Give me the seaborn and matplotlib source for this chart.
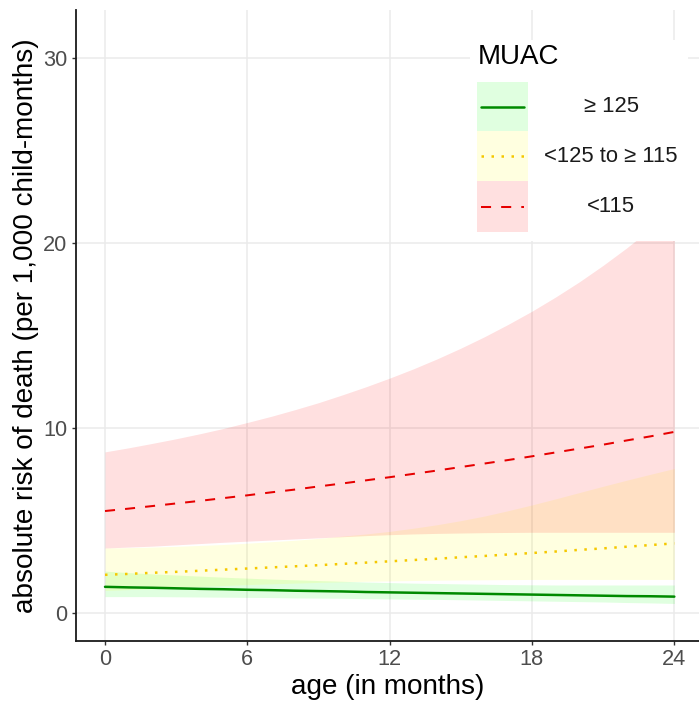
import numpy as np
import pandas as pd
import matplotlib
matplotlib.use("Agg")
import matplotlib.pyplot as plt
from matplotlib.patches import Rectangle
from matplotlib.lines import Line2D
import seaborn as sns

# age grid (months)
age = list(range(0, 25))

# MUAC >= 125
g_est = [1.40, 1.37, 1.35, 1.32, 1.29, 1.27, 1.24, 1.22, 1.19, 1.17, 1.15, 1.12, 1.10,
         1.08, 1.06, 1.04, 1.02, 1.00, 0.98, 0.96, 0.94, 0.92, 0.90, 0.89, 0.87]
g_lo = [0.87, 0.87, 0.87, 0.86, 0.85, 0.84, 0.83, 0.82, 0.80, 0.79, 0.78, 0.76, 0.75,
        0.73, 0.72, 0.70, 0.68, 0.66, 0.64, 0.62, 0.60, 0.58, 0.55, 0.53, 0.50]
g_hi = [2.25, 2.17, 2.10, 2.04, 1.98, 1.92, 1.87, 1.82, 1.78, 1.74, 1.70, 1.66, 1.63,
        1.60, 1.58, 1.56, 1.54, 1.52, 1.51, 1.50, 1.50, 1.50, 1.50, 1.50, 1.50]

# MUAC <125 to >= 115
y_est = [2.05, 2.10, 2.16, 2.21, 2.27, 2.33, 2.39, 2.45, 2.51, 2.57, 2.64, 2.71, 2.78,
         2.85, 2.92, 3.00, 3.07, 3.15, 3.23, 3.31, 3.40, 3.48, 3.57, 3.66, 3.75]
y_lo = [1.20, 1.25, 1.30, 1.36, 1.42, 1.47, 1.52, 1.56, 1.60, 1.64, 1.67, 1.70, 1.72,
        1.74, 1.76, 1.77, 1.78, 1.79, 1.80, 1.80, 1.80, 1.80, 1.80, 1.80, 1.80]
y_hi = [3.50, 3.52, 3.55, 3.59, 3.64, 3.69, 3.76, 3.84, 3.92, 4.02, 4.14, 4.26, 4.40,
        4.57, 4.76, 4.98, 5.23, 5.52, 5.83, 6.16, 6.50, 6.84, 7.17, 7.49, 7.80]

# MUAC < 115
r_est = [5.50, 5.63, 5.77, 5.91, 6.05, 6.20, 6.35, 6.51, 6.66, 6.83, 6.99, 7.16, 7.33,
         7.51, 7.69, 7.88, 8.07, 8.26, 8.46, 8.67, 8.88, 9.09, 9.32, 9.54, 9.78]
r_lo = [3.50, 3.55, 3.60, 3.67, 3.74, 3.81, 3.87, 3.93, 3.99, 4.05, 4.11, 4.17, 4.22,
        4.26, 4.29, 4.31, 4.33, 4.34, 4.35, 4.35, 4.35, 4.35, 4.35, 4.35, 4.35]
r_hi = [8.70, 8.92, 9.16, 9.41, 9.68, 9.97, 10.29, 10.62, 10.98, 11.36, 11.78, 12.22, 12.69,
        13.19, 13.73, 14.31, 14.93, 15.60, 16.31, 17.08, 17.90, 18.79, 19.74, 20.77, 21.87]

groups = ["\u2265 125", "<125 to \u2265 115", "<115"]
x_ticks = [0, 6, 12, 18, 24]
y_ticks = [0, 10, 20, 30]

sns.set_theme(style="white")
plt.rcParams["font.family"] = ["Liberation Sans", "DejaVu Sans"]

line_col = {groups[0]: "#008a00", groups[1]: "#f5c800", groups[2]: "#e60000"}
band_col = {groups[0]: "#00ff00", groups[1]: "#ffff00", groups[2]: "#ff0000"}
line_ls = {groups[0]: "-", groups[1]: (0, (1, 3)), groups[2]: (0, (5, 5))}
line_lw = {groups[0]: 1.8, groups[1]: 1.8, groups[2]: 1.45}

frames = []
for name, est, lo, hi in zip(groups, [g_est, y_est, r_est], [g_lo, y_lo, r_lo], [g_hi, y_hi, r_hi]):
    frames.append(pd.DataFrame({"age": age, "risk": est, "lo": lo, "hi": hi, "MUAC": name}))
df = pd.concat(frames, ignore_index=True)

W, H = 699, 705
fig = plt.figure(figsize=(W / 100, H / 100), dpi=100)
ax = fig.add_axes([75.5 / W, (H - 641) / H, (W - 75.5) / W, 631 / H])

for name in groups:
    sub = df[df["MUAC"] == name]
    ax.fill_between(sub["age"], sub["lo"], sub["hi"], color=band_col[name], alpha=0.12, lw=0, zorder=1)
for name in groups:
    sub = df[df["MUAC"] == name]
    sns.lineplot(data=sub, x="age", y="risk", ax=ax, color=line_col[name],
                 linestyle=line_ls[name], linewidth=line_lw[name], zorder=3,
                 dash_capstyle="butt", legend=False)

ax.set_xlim(-1.244, 25.04)
ax.set_ylim(-1.53, 32.6)
ax.set_xticks(x_ticks)
ax.set_yticks(y_ticks)
ax.grid(True, color="#ebebeb", lw=1.1, zorder=0)
ax.set_axisbelow(True)
for s in ["top", "right"]:
    ax.spines[s].set_visible(False)
for s in ["left", "bottom"]:
    ax.spines[s].set_color("#1a1a1a")
    ax.spines[s].set_linewidth(1.3)
ax.tick_params(axis="both", length=3, width=1.0, color="#333333", labelcolor="#4d4d4d",
               labelsize=15.7, pad=3, left=True, bottom=True)
ax.set_xlabel("age (in months)", fontsize=20.1, color="black", labelpad=3)
ax.set_ylabel("absolute risk of death (per 1,000 child-months)", fontsize=20.1, color="black", labelpad=3)

# legend panel
lx0, ly0, lw_, lh_ = 470, 40, 218, 201
lax = fig.add_axes([lx0 / W, (H - ly0 - lh_) / H, lw_ / W, lh_ / H])
lax.set_xlim(0, lw_)
lax.set_ylim(lh_, 0)
lax.set_facecolor("white")
lax.axis("off")
lax.add_patch(Rectangle((0, 0), lw_, lh_, facecolor="white", edgecolor="none", zorder=0))
lax.text(8, 17, "MUAC", fontsize=20, va="center", ha="left", color="black")
key_top = [42, 91, 141]
key_h = [49, 50, 51]
for name, top, h in zip(groups, key_top, key_h):
    lax.add_patch(Rectangle((7, top), 51, h, facecolor=band_col[name], alpha=0.12, edgecolor="none", zorder=1))
    cy = top + h / 2
    lax.add_line(Line2D([11, 54], [cy, cy], color=line_col[name], linestyle=line_ls[name],
                        linewidth=line_lw[name], dash_capstyle="butt", zorder=2))
    lax.text(141, cy, name, fontsize=15.8, va="center", ha="center", color="#1a1a1a")

fig.savefig("out.png", dpi=100)
